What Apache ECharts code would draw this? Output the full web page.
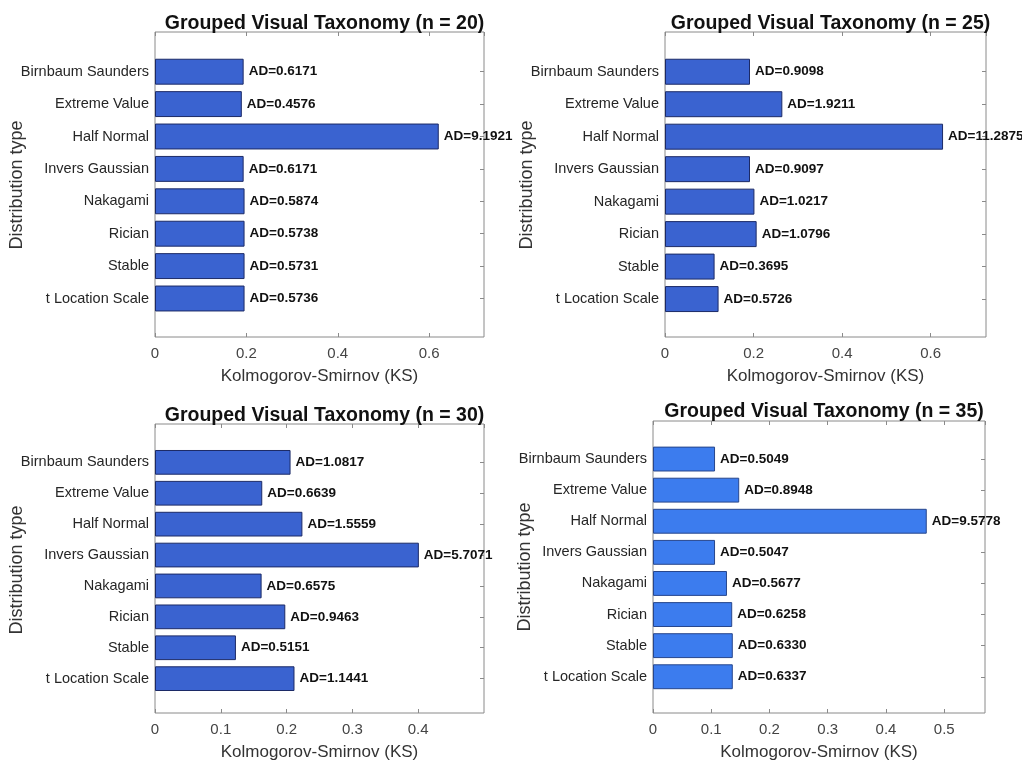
<!DOCTYPE html>
<html><head><meta charset="utf-8">
<script src="https://cdn.jsdelivr.net/npm/echarts@6/dist/echarts.min.js"></script>
<style>html,body{margin:0;padding:0;background:#fff}#c{width:1022px;height:762px}</style>
</head><body><div id="c"></div>
<script>
const categories = ['Birnbaum Saunders','Extreme Value','Half Normal','Invers Gaussian','Nakagami','Rician','Stable','t Location Scale'];
const ks20 = [0.194, 0.190, 0.621, 0.194, 0.196, 0.196, 0.196, 0.196];
const ad20 = [0.6171, 0.4576, 9.1921, 0.6171, 0.5874, 0.5738, 0.5731, 0.5736];
const ks25 = [0.192, 0.265, 0.628, 0.192, 0.202, 0.207, 0.112, 0.121];
const ad25 = [0.9098, 1.9211, 11.2875, 0.9097, 1.0217, 1.0796, 0.3695, 0.5726];
const ks30 = [0.206, 0.163, 0.224, 0.401, 0.162, 0.198, 0.123, 0.212];
const ad30 = [1.0817, 0.6639, 1.5559, 5.7071, 0.6575, 0.9463, 0.5151, 1.1441];
const ks35 = [0.1065, 0.148, 0.470, 0.1065, 0.127, 0.136, 0.137, 0.137];
const ad35 = [0.5049, 0.8948, 9.5778, 0.5047, 0.5677, 0.6258, 0.6330, 0.6337];
const panelN = [20, 25, 30, 35];
const xMax = [0.72, 0.725, 0.5, 0.57];
const xInterval = [0.2, 0.2, 0.1, 0.1];

const ksAll = [ks20, ks25, ks30, ks35];
const adAll = [ad20, ad25, ad30, ad35];

// layout: frame box and inner (bar band) box per panel
const layout = [
  {fl:155, fw:329, ft:32,  fh:305, it:55.5,  ih:259.2, ty:9,   yn:[17,185],  fill:'#3a63d0', edge:'#1c2a66'},
  {fl:665, fw:321, ft:32,  fh:305, it:55.5,  ih:259.8, ty:9,   yn:[527,185], fill:'#3a63d0', edge:'#1c2a66'},
  {fl:155, fw:329, ft:424, fh:291, it:446.9, ih:247.2, ty:401, yn:[17,570],  fill:'#3a63d0', edge:'#1c2a66'},
  {fl:653, fw:332, ft:421, fh:292, it:443.5, ih:248.8, ty:397, yn:[525,567], fill:'#3c7cee', edge:'#27468c'}
];

const FONT = '"Liberation Sans", Arial, Helvetica, sans-serif';
const grid = [], xAxis = [], yAxis = [], series = [], title = [], graphic = [];

layout.forEach((L, p) => {
  const gFrame = grid.length;
  grid.push({left:L.fl, width:L.fw, top:L.ft, height:L.fh, show:true, borderColor:'#8a8a8a', borderWidth:1, backgroundColor:'transparent'});
  const gInner = grid.length;
  grid.push({left:L.fl, width:L.fw, top:L.it, height:L.ih, show:false});

  xAxis.push({gridIndex:gFrame, type:'value', min:0, max:xMax[p], interval:xInterval[p], position:'bottom',
    axisLine:{show:false}, splitLine:{show:false},
    axisTick:{show:true, inside:true, length:4, lineStyle:{color:'#8a8a8a'}},
    axisLabel:{show:true, margin:9, fontFamily:FONT, fontSize:15, color:'#444', showMaxLabel:false},
    name:'Kolmogorov-Smirnov (KS)', nameLocation:'middle', nameGap:31,
    nameTextStyle:{fontFamily:FONT, fontSize:17, color:'#333'}});
  xAxis.push({gridIndex:gFrame, type:'value', min:0, max:xMax[p], interval:xInterval[p], position:'top',
    axisLine:{show:false}, splitLine:{show:false}, axisLabel:{show:false},
    axisTick:{show:true, inside:true, length:4, lineStyle:{color:'#8a8a8a'}}});
  yAxis.push({gridIndex:gFrame, type:'value', min:0, max:1, show:false});

  const xi = xAxis.length;
  xAxis.push({gridIndex:gInner, type:'value', min:0, max:xMax[p], show:false});
  const yi = yAxis.length;
  yAxis.push({gridIndex:gInner, type:'category', data:categories, inverse:true, position:'left',
    axisLine:{show:false},
    axisTick:{show:true, inside:true, alignWithLabel:true, length:4, lineStyle:{color:'#8a8a8a'}},
    axisLabel:{fontFamily:FONT, fontSize:14.5, color:'#262626', margin:6}});
  yAxis.push({gridIndex:gInner, type:'category', data:categories, inverse:true, position:'right',
    axisLine:{show:false}, axisLabel:{show:false},
    axisTick:{show:true, inside:true, alignWithLabel:true, length:4, lineStyle:{color:'#8a8a8a'}}});

  const ad = adAll[p];
  series.push({type:'bar', xAxisIndex:xi, yAxisIndex:yi, data:ksAll[p], barWidth:'80%',
    itemStyle:{color:L.fill, borderColor:L.edge, borderWidth:1},
    label:{show:true, position:'right', distance:5, fontFamily:FONT, fontSize:13.5, fontWeight:'bold', color:'#111',
      formatter: (d) => 'AD=' + ad[d.dataIndex].toFixed(4)},
    silent:true, animation:false});

  title.push({text:'Grouped Visual Taxonomy (n = ' + panelN[p] + ')', left:L.fl + L.fw/2, top:L.ty, textAlign:'center',
    textStyle:{fontFamily:FONT, fontSize:19.5, fontWeight:'bold', color:'#111'}});

  graphic.push({type:'text', x:L.yn[0], y:L.yn[1], rotation:Math.PI/2,
    style:{text:'Distribution type', fontFamily:FONT, fontSize:18, fill:'#333', align:'center', verticalAlign:'middle'}});
});

const chart = echarts.init(document.getElementById('c'), null, {renderer:'canvas'});
chart.setOption({backgroundColor:'#fff', animation:false, title, grid, xAxis, yAxis, series, graphic});
</script>
</body></html>
